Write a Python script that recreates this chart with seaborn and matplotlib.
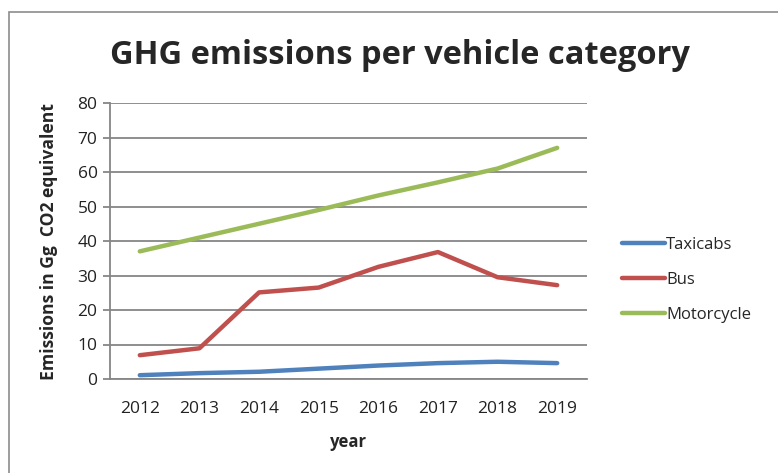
import matplotlib
matplotlib.use("Agg")
import matplotlib.pyplot as plt
from matplotlib.patches import Rectangle
import seaborn as sns
import pandas as pd

years = ["2012", "2013", "2014", "2015", "2016", "2017", "2018", "2019"]
taxicabs = [1.1, 1.7, 2.1, 3.0, 3.9, 4.6, 5.0, 4.6]
bus = [6.9, 8.9, 25.1, 26.5, 32.5, 36.8, 29.5, 27.2]
motorcycle = [37.0, 41.0, 45.0, 49.0, 53.2, 57.0, 61.0, 67.0]
series_names = ["Taxicabs", "Bus", "Motorcycle"]
y_ticks = [0, 10, 20, 30, 40, 50, 60, 70, 80]

colors = ["#4F81BD", "#C0504D", "#9BBB59"]

df = pd.DataFrame({
    "year": years * 3,
    "value": taxicabs + bus + motorcycle,
    "series": [n for n in series_names for _ in years],
})

sns.set_style("white")
plt.rcParams["font.family"] = ["Open Sans", "DejaVu Sans"]

fig = plt.figure(figsize=(7.78, 4.73), dpi=100)
ax = fig.add_axes([110 / 778, 1 - 379 / 473, (587 - 110) / 778, (379 - 103) / 473])

sns.lineplot(data=df, x="year", y="value", hue="series", hue_order=series_names,
             palette=colors, linewidth=3.2, ax=ax, sort=False, legend=False)

ax.set_xlim(-0.5, len(years) - 0.5)
ax.set_ylim(0, 80)
ax.set_yticks(y_ticks)
ax.set_yticklabels([str(v) for v in y_ticks], fontsize=12.5, color="#222222")
ax.set_xticks(range(len(years)))
ax.set_xticklabels(years, fontsize=12.5, color="#222222")
ax.tick_params(axis="x", which="major", length=0, pad=16)
ax.set_xticks([i - 0.5 for i in range(len(years) + 1)], minor=True)
ax.tick_params(axis="x", which="minor", length=5, width=1.3, color="#868686", direction="out")
ax.tick_params(axis="y", length=5, width=1.3, color="#868686", direction="out", pad=4, left=True)

ax.grid(axis="y", color="#868686", linewidth=1.3)
ax.set_axisbelow(True)
for side in ["top", "right"]:
    ax.spines[side].set_visible(False)
for side in ["left", "bottom"]:
    ax.spines[side].set_color("#868686")
    ax.spines[side].set_linewidth(1.3)

ax.set_xlabel("year", fontsize=12, fontweight="bold", labelpad=11)
ax.set_ylabel("Emissions in Gg  CO2 equivalent", fontsize=12.6, fontweight="bold", labelpad=14)

fig.text(0.514, 1 - 56 / 473, "GHG emissions per vehicle category", ha="center", va="center",
         fontsize=23.5, fontweight="bold")

handles = [plt.Line2D([], [], color=c, linewidth=3.2, solid_capstyle="round") for c in colors]
fig.legend(handles, series_names, loc="center left", bbox_to_anchor=(607 / 778, 1 - 280 / 473),
           frameon=False, fontsize=12, handlelength=2.6, handletextpad=0.05, labelspacing=1.15)

fig.patches.append(Rectangle((9 / 778, -0.1), 1.2, 1 - 12 / 473 + 0.1, transform=fig.transFigure,
                             fill=False, edgecolor="#8C8C8C", linewidth=1.2))

fig.savefig("out.png", dpi=100)
